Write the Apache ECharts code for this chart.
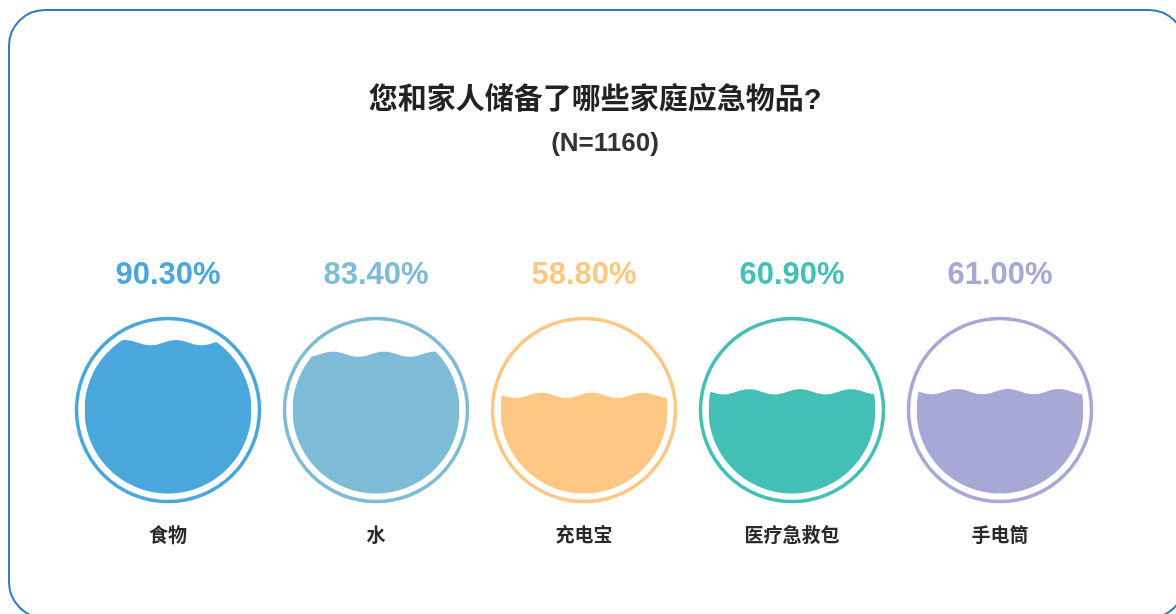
<!DOCTYPE html>
<html>
<head>
<meta charset="utf-8">
<script src="https://cdn.jsdelivr.net/npm/echarts@6/dist/echarts.min.js"></script>
<style>
    html, body { margin: 0; padding: 0; background: #fff; }
    #main { width: 1176px; height: 614px; }
</style>
</head>
<body>
<div id="main"></div>
<script>
// 数据
const categories = ['食物', '水', '充电宝', '医疗急救包', '手电筒']
const percents = [90.3, 83.4, 58.8, 60.9, 61.0]
const colors = ['#4AA7DC', '#7DBBD7', '#FEC783', '#44BFB5', '#A6A8D5']

const fontFamily = '"Liberation Sans", Arial, "Noto Sans CJK SC", sans-serif'

function waveY(x, cx, level) {
    // 波浪：振幅 2.6，波长 51
    return level - 2.6 * Math.cos((2 * Math.PI * (x - cx - 8)) / 51)
}

function renderLiquid(params, api) {
    let idx = api.value(0)
    let val = api.value(1)
    let color = colors[idx]
    let bottomPt = api.coord([idx, 0])
    let topPt = api.coord([idx, 100])
    let cx = bottomPt[0]
    let r = (bottomPt[1] - topPt[1]) / 2
    let cy = (bottomPt[1] + topPt[1]) / 2
    let level = api.coord([idx, val])[1]

    let upper = []
    let lower = []
    for (let x = cx - r; x <= cx + r + 0.01; x += 0.5) {
        let dx = x - cx
        let h = Math.sqrt(Math.max(r * r - dx * dx, 0))
        let top = Math.max(waveY(x, cx, level), cy - h)
        let bottom = cy + h
        if (top < bottom) {
            upper.push([x, top])
            lower.push([x, bottom])
        }
    }
    let points = upper.concat(lower.reverse())

    return {
        type: 'group',
        children: [
            {
                type: 'circle',
                shape: { cx: cx, cy: cy, r: r + 8 },
                style: { fill: 'none', stroke: color, lineWidth: 3.5 }
            },
            {
                type: 'polygon',
                shape: { points: points },
                style: { fill: color }
            },
            {
                type: 'text',
                x: cx,
                y: cy - 135,
                style: {
                    text: val.toFixed(2) + '%',
                    fill: color,
                    font: 'bold 31px ' + fontFamily,
                    align: 'center',
                    verticalAlign: 'middle'
                }
            },
            {
                type: 'text',
                x: cx,
                y: cy + 127,
                style: {
                    text: categories[idx],
                    fill: '#2a2a2a',
                    font: 'bold 19px ' + fontFamily,
                    align: 'center',
                    verticalAlign: 'middle'
                }
            }
        ]
    }
}

let myChart = echarts.init(document.getElementById('main'))
let option = {
    backgroundColor: '#ffffff',
    animation: false,
    title: [
        {
            text: '您和家人储备了哪些家庭应急物品?',
            left: 590,
            textAlign: 'center',
            top: 81,
            textStyle: {
                color: '#222222',
                fontSize: 29,
                fontWeight: 'bold',
                fontFamily: fontFamily
            }
        },
        {
            text: '(N=1160)',
            left: 600,
            textAlign: 'center',
            top: 126,
            textStyle: {
                color: '#333333',
                fontSize: 26,
                fontWeight: 'bold',
                fontFamily: fontFamily
            }
        }
    ],
    graphic: [
        {
            type: 'rect',
            shape: { x: 9, y: 10, width: 1176, height: 608, r: 36 },
            style: { fill: 'none', stroke: '#2E7CC4', lineWidth: 2 },
            silent: true
        }
    ],
    grid: {
        left: 64,
        right: 72,
        top: 326.5,
        bottom: 120.5
    },
    xAxis: {
        type: 'category',
        data: categories,
        show: false
    },
    yAxis: {
        type: 'value',
        min: 0,
        max: 100,
        show: false
    },
    series: [
        {
            type: 'custom',
            clip: false,
            renderItem: renderLiquid,
            data: percents.map((v, i) => [i, v])
        }
    ]
}
option && myChart.setOption(option)
</script>
</body>
</html>
